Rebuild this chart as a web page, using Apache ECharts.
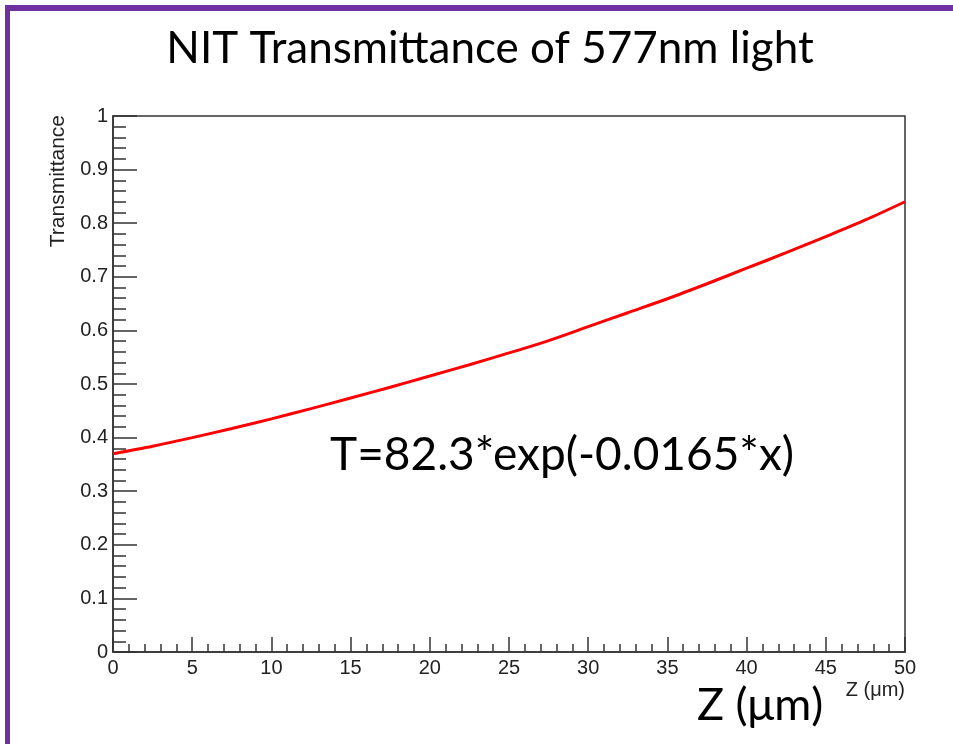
<!DOCTYPE html>
<html>
<head>
<meta charset="utf-8">
<script src="https://cdn.jsdelivr.net/npm/echarts@6/dist/echarts.min.js"></script>
<style>html,body{margin:0;padding:0;background:#fff;}#c{width:953px;height:744px;}</style>
</head>
<body>
<div id="c"></div>
<script>
// Data
const zValues = [0, 2.5, 5, 7.5, 10, 12.5, 15, 17.5, 20, 22.5, 25, 27.5, 30, 32.5, 35, 37.5, 40, 42.5, 45, 47.5, 50];
const transmittance = [0.370, 0.384, 0.400, 0.417, 0.435, 0.454, 0.474, 0.494, 0.515, 0.536, 0.558, 0.581, 0.607, 0.633, 0.659, 0.687, 0.716, 0.745, 0.775, 0.806, 0.840];
const titleText = 'NIT Transmittance of 577nm light';
const formulaText = 'T=82.3*exp(-0.0165*x)';
const xName = 'Z (\u03bcm)';
const yName = 'Transmittance';

const chart = echarts.init(document.getElementById('c'), null, {renderer: 'canvas'});
const axisColor = '#333';
const tickFont = {fontFamily: 'Liberation Sans', fontSize: 20, color: '#222'};

chart.setOption({
  animation: false,
  backgroundColor: '#fff',
  grid: {left: 113, right: 48, top: 116, bottom: 92, show: true, borderColor: axisColor, borderWidth: 1.5, backgroundColor: 'transparent'},
  xAxis: {
    type: 'value', min: 0, max: 50, interval: 5,
    axisLine: {show: true, lineStyle: {color: axisColor, width: 1.5}},
    axisTick: {show: true, inside: true, length: 15, lineStyle: {color: axisColor, width: 1.5}},
    minorTick: {show: true, splitNumber: 5, length: 8, lineStyle: {color: axisColor, width: 1.5}},
    splitLine: {show: false},
    axisLabel: Object.assign({margin: 6}, tickFont)
  },
  yAxis: {
    type: 'value', min: 0, max: 1, interval: 0.1,
    axisLine: {show: true, lineStyle: {color: axisColor, width: 1.5}},
    axisTick: {show: true, inside: true, length: 24, lineStyle: {color: axisColor, width: 1.5}},
    minorTick: {show: true, splitNumber: 5, length: 13, lineStyle: {color: axisColor, width: 1.5}},
    splitLine: {show: false},
    axisLabel: Object.assign({margin: 5, formatter: v => String(+v.toFixed(1))}, tickFont)
  },
  series: [{
    type: 'line',
    data: zValues.map((z, i) => [z, transmittance[i]]),
    showSymbol: false,
    smooth: 0.3,
    lineStyle: {color: '#ff0000', width: 3}
  }],
  graphic: [
    {type: 'rect', shape: {x: 5, y: 5, width: 948, height: 6}, style: {fill: '#7030a0'}},
    {type: 'rect', shape: {x: 5, y: 5, width: 5, height: 739}, style: {fill: '#7030a0'}},
    {type: 'text', x: 490, y: 49, style: {text: titleText, font: '44px Lato', fill: '#000', align: 'center', verticalAlign: 'middle'}},
    {type: 'text', x: 330, y: 455, style: {text: formulaText, font: '46px Lato', fill: '#000', align: 'left', verticalAlign: 'middle'}},
    {type: 'text', x: 697, y: 705, style: {text: xName, font: '45px Lato', fill: '#000', align: 'left', verticalAlign: 'middle'}},
    {type: 'text', x: 905, y: 690, style: {text: xName, font: '20px "Liberation Sans"', fill: '#222', align: 'right', verticalAlign: 'middle'}},
    {type: 'text', x: 58, y: 115, rotation: Math.PI / 2, style: {text: yName, font: '21px "Liberation Sans"', fill: '#222', align: 'right', verticalAlign: 'middle'}}
  ]
});
</script>
</body>
</html>
